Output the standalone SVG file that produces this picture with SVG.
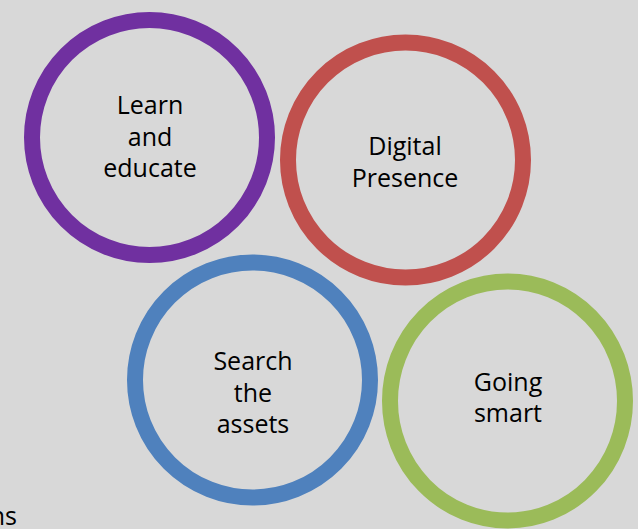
<svg xmlns="http://www.w3.org/2000/svg" width="638" height="529" viewBox="0 0 638 529">
<style>
.ring{fill:none;stroke-width:16}
.lbl{font-family:"Open Sans","Liberation Sans",sans-serif;font-size:25px;fill:#000;text-anchor:middle}
</style>
<rect x="0" y="0" width="638" height="529" fill="#d8d8d8"/>
<g id="node-learn">
<circle class="ring" cx="149.5" cy="137.5" r="117.5" stroke="#7030a0"/>
<text class="lbl" x="150" y="114">Learn</text>
<text class="lbl" x="150" y="146">and</text>
<text class="lbl" x="150" y="177">educate</text>
</g>
<g id="node-digital">
<circle class="ring" cx="405.5" cy="160" r="117.5" stroke="#c0504d"/>
<text class="lbl" x="405" y="155">Digital</text>
<text class="lbl" x="405" y="187">Presence</text>
</g>
<g id="node-search">
<circle class="ring" cx="252.5" cy="380" r="117.5" stroke="#4f81bd"/>
<text class="lbl" x="253" y="370">Search</text>
<text class="lbl" x="253" y="402">the</text>
<text class="lbl" x="253" y="433">assets</text>
</g>
<g id="node-going">
<ellipse class="ring" cx="507.5" cy="401" rx="117.5" ry="119.5" stroke="#9bbb59"/>
<text class="lbl" x="508" y="391">Going</text>
<text class="lbl" x="508" y="422">smart</text>
</g>
<g id="connectors"></g>
<text class="lbl" x="17" y="525" style="text-anchor:end">ns</text>
</svg>
